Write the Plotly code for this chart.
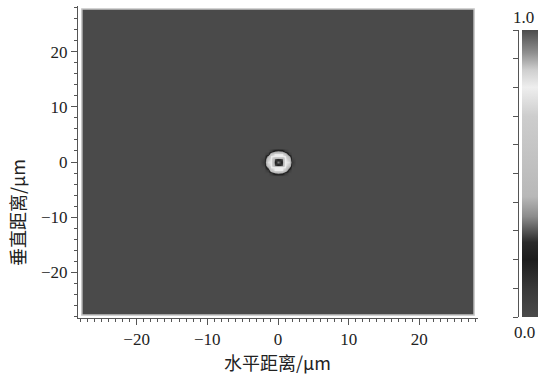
import numpy as np
import plotly.graph_objects as go

# ---- data ----
STEP = 0.5
x_vals = np.arange(-27.5, 27.5 + STEP / 2, STEP)
y_vals = np.arange(-27.5, 27.5 + STEP / 2, STEP)
BACKGROUND = 0.0
# normalised intensity of the focal spot, 9x9 samples (0.5 um spacing), centred at (0, 0)
PATCH = [
    [0.00, 0.00, 0.10, 0.30, 0.35, 0.30, 0.10, 0.00, 0.00],
    [0.00, 0.10, 0.60, 0.80, 0.80, 0.80, 0.60, 0.10, 0.00],
    [0.00, 0.40, 0.80, 0.80, 0.80, 0.80, 0.80, 0.40, 0.00],
    [0.05, 0.65, 0.80, 0.30, 0.22, 0.30, 0.80, 0.65, 0.05],
    [0.10, 0.75, 0.80, 0.22, 0.34, 0.22, 0.80, 0.75, 0.10],
    [0.05, 0.65, 0.80, 0.30, 0.22, 0.30, 0.80, 0.65, 0.05],
    [0.00, 0.40, 0.80, 0.80, 0.80, 0.80, 0.80, 0.40, 0.00],
    [0.00, 0.10, 0.60, 0.80, 0.80, 0.80, 0.60, 0.10, 0.00],
    [0.00, 0.00, 0.10, 0.30, 0.35, 0.30, 0.10, 0.00, 0.00],
]
X_TICKS = [-20, -10, 0, 10, 20]
Y_TICKS = [-20, -10, 0, 10, 20]
CBAR_LABELS = ["0.0", "1.0"]
X_TITLE = "水平距离/μm"
Y_TITLE = "垂直距离/μm"

COLORSCALE = [
    [0.00, "#4a4a4a"], [0.10, "#383838"], [0.20, "#1c1c1c"], [0.26, "#2a2a2a"],
    [0.35, "#8c8c8c"], [0.42, "#b8b8b8"], [0.55, "#c2c2c2"], [0.70, "#cdcdcd"],
    [0.80, "#eeeeee"], [0.86, "#cfcfcf"], [0.92, "#8f8f8f"], [1.00, "#4c4c4c"],
]

z = np.full((len(y_vals), len(x_vals)), BACKGROUND)
patch = np.array(PATCH)
half = patch.shape[0] // 2
ci = int(np.argmin(np.abs(y_vals)))
cj = int(np.argmin(np.abs(x_vals)))
z[ci - half:ci + half + 1, cj - half:cj + half + 1] = patch

W, H = 540, 376
ML, MR, MT, MB = 78, 2, 6, 58
PW = W - ML - MR
PH = H - MT - MB
plot_right = 478


def px(xp):
    return (xp - ML) / PW


def py(yp):
    return 1 - (yp - MT) / PH


FONT_NUM = "Liberation Serif"
FONT_CJK = "Noto Sans CJK SC"
TXT = "#222222"
AX = "#555555"

fig = go.Figure()
fig.add_trace(go.Heatmap(
    x=x_vals, y=y_vals, z=z, zmin=0, zmax=1, zsmooth="best",
    colorscale=COLORSCALE,
    colorbar=dict(
        x=px(522), xanchor="left", xref="paper", xpad=0, ypad=0,
        y=py((30 + 317) / 2), yanchor="middle", len=287, lenmode="pixels",
        thickness=16, outlinewidth=0, showticklabels=False, ticks="",
    ),
    hoverinfo="skip",
))
# invisible helper trace so the colour-bar tick axis is drawn
fig.add_trace(go.Scatter(x=[0], y=[0.5], xaxis="x2", yaxis="y2", mode="markers",
                         marker=dict(opacity=0), showlegend=False, hoverinfo="skip"))

# border around the image
fig.add_shape(type="rect", xref="x", yref="y",
              x0=x_vals[0] - STEP / 2, x1=x_vals[-1] + STEP / 2,
              y0=y_vals[0] - STEP / 2, y1=y_vals[-1] + STEP / 2,
              line=dict(color="#c4c4c4", width=1.5))

axis_common = dict(showgrid=False, zeroline=False, showline=True, linecolor=AX,
                   linewidth=1, ticks="outside", tickcolor=AX, ticklen=6,
                   tickfont=dict(family=FONT_NUM, size=17, color=TXT))

fig.update_layout(
    width=W, height=H, margin=dict(l=ML, r=MR, t=MT, b=MB, autoexpand=False),
    paper_bgcolor="white", plot_bgcolor="white", showlegend=False,
    xaxis=dict(range=[-28.3, 28.3], domain=[0, px(plot_right)],
               tickvals=X_TICKS, anchor="y", automargin=False,
               minor=dict(dtick=1, ticklen=3, ticks="outside", tickcolor=AX),
               **axis_common),
    yaxis=dict(range=[-28.3, 28.3], tickvals=Y_TICKS, anchor="x", automargin=False,
               minor=dict(dtick=2, ticklen=3, ticks="outside", tickcolor=AX),
               **axis_common),
    xaxis2=dict(domain=[px(519), px(521)], anchor="y2", visible=False,
                range=[0, 1], fixedrange=True),
    yaxis2=dict(range=[0, 1], domain=[py(317), py(30)], anchor="x2", side="left",
                showgrid=False, zeroline=False, showline=True, linecolor=AX,
                ticks="outside", ticklen=5, tickcolor=AX, dtick=0.1,
                showticklabels=False, fixedrange=True),
)

fig.add_annotation(text=CBAR_LABELS[1], x=px(523), y=py(29), xanchor="center", yanchor="bottom",
                   xref="paper", yref="paper", showarrow=False,
                   font=dict(family=FONT_NUM, size=17, color=TXT))
fig.add_annotation(text=CBAR_LABELS[0], x=px(524), y=py(321), xanchor="center", yanchor="top",
                   xref="paper", yref="paper", showarrow=False,
                   font=dict(family=FONT_NUM, size=17, color=TXT))
fig.add_annotation(text=X_TITLE, x=px(277), y=py(362), xanchor="center", yanchor="middle",
                   xref="paper", yref="paper", showarrow=False,
                   font=dict(family=FONT_CJK, size=18, color=TXT))
fig.add_annotation(text=Y_TITLE, x=px(17), y=py(212), xanchor="center", yanchor="middle",
                   xref="paper", yref="paper", showarrow=False, textangle=-90,
                   font=dict(family=FONT_CJK, size=18, color=TXT))

fig.write_html("out.html")
